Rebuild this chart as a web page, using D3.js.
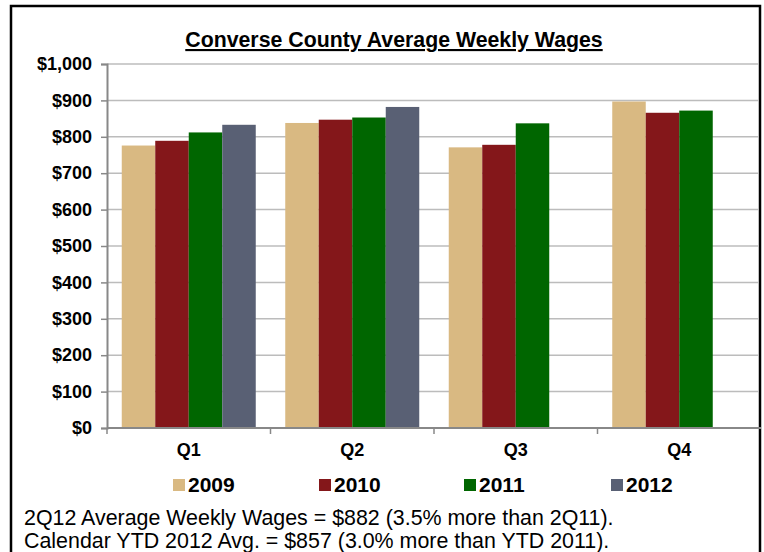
<!DOCTYPE html>
<html>
<head>
<meta charset="utf-8">
<script src="https://cdn.jsdelivr.net/npm/d3@7"></script>
<style>
  html, body { margin: 0; padding: 0; background: #fff; }
  svg { display: block; font-family: "Liberation Sans", Arial, sans-serif; }
</style>
</head>
<body>
<svg id="chart" width="764" height="552"></svg>
<script>
const quarters = ["Q1", "Q2", "Q3", "Q4"];
const years = ["2009", "2010", "2011", "2012"];
const values2009 = [776, 838, 771, 897];
const values2010 = [789, 847, 778, 866];
const values2011 = [812, 853, 837, 872];
const values2012 = [833, 882, null, null];
const yTicks = [0, 100, 200, 300, 400, 500, 600, 700, 800, 900, 1000];
const colors = ["#D9B982", "#84171A", "#006600", "#596074"];
const titleText = "Converse County Average Weekly Wages";
const notes = [
  "2Q12 Average Weekly Wages = $882 (3.5% more than 2Q11).",
  "Calendar YTD 2012 Avg. = $857 (3.0% more than YTD 2011)."
];

const series = [values2009, values2010, values2011, values2012];
const svg = d3.select("#chart");

// border
svg.append("rect").attr("x", 11).attr("y", 6).attr("width", 749).attr("height", 570)
  .attr("fill", "none").attr("stroke", "#000").attr("stroke-width", 2.5);

// title
svg.append("text").attr("x", 394).attr("y", 47).attr("text-anchor", "middle")
  .attr("font-size", 21.3).attr("font-weight", "bold").attr("text-decoration", "underline")
  .text(titleText);

const x0 = d3.scaleBand().domain(quarters).range([107, 761]).paddingInner(0).paddingOuter(0);
const groupW = 134;
const x1 = d3.scaleBand().domain(years).range([0, groupW]);
const y = d3.scaleLinear().domain([0, 1000]).range([428, 64]);

// gridlines
svg.append("g").selectAll("line").data(yTicks.filter(t => t > 0)).join("line")
  .attr("x1", 107).attr("x2", 759).attr("y1", d => y(d)).attr("y2", d => y(d))
  .attr("stroke", "#bcbcbc").attr("stroke-width", 1.5);

// bars
const g = svg.append("g");
quarters.forEach((q, qi) => {
  const off = x0(q) + (x0.bandwidth() - groupW) / 2;
  years.forEach((yr, si) => {
    const v = series[si][qi];
    if (v == null) return;
    g.append("rect")
      .attr("x", off + x1(yr)).attr("width", x1.bandwidth())
      .attr("y", y(v)).attr("height", y(0) - y(v))
      .attr("fill", colors[si]);
  });
});

// y axis
const yAxis = d3.axisLeft(y).tickValues(yTicks).tickSize(6).tickPadding(9)
  .tickFormat(d => "$" + d3.format(",")(d));
const ya = svg.append("g").attr("transform", "translate(107,0)").call(yAxis);
ya.select(".domain").attr("stroke", "#888").attr("stroke-width", 2);
ya.selectAll(".tick line").attr("stroke", "#888").attr("stroke-width", 1.5);
ya.selectAll(".tick text").attr("font-size", 18).attr("font-weight", "bold")
  .attr("fill", "#000").attr("font-family", "Liberation Sans, Arial, sans-serif");

// x axis
const xa = svg.append("g").attr("transform", "translate(0,428)");
xa.append("line").attr("x1", 107).attr("x2", 761).attr("y1", 0).attr("y2", 0)
  .attr("stroke", "#888").attr("stroke-width", 2);
xa.selectAll("line.tk").data(quarters).join("line").attr("class", "tk")
  .attr("x1", d => x0(d)).attr("x2", d => x0(d)).attr("y1", 0).attr("y2", 6)
  .attr("stroke", "#888").attr("stroke-width", 1.5);
xa.selectAll("text").data(quarters).join("text")
  .attr("x", d => x0(d) + x0.bandwidth() / 2).attr("y", 28)
  .attr("text-anchor", "middle").attr("font-size", 18).attr("font-weight", "bold")
  .text(d => d);

// legend
const lx = d3.scaleOrdinal().domain(years).range([173, 319, 464, 611]);
const lg = svg.append("g");
years.forEach((yr, i) => {
  lg.append("rect").attr("x", lx(yr)).attr("y", 479).attr("width", 12).attr("height", 12)
    .attr("fill", colors[i]);
  lg.append("text").attr("x", lx(yr) + 15).attr("y", 492)
    .attr("font-size", 21).attr("font-weight", "bold").text(yr);
});

// notes
notes.forEach((t, i) => {
  svg.append("text").attr("x", 24).attr("y", 525 + i * 23)
    .attr("font-size", 21.4).text(t);
});
</script>
</body>
</html>
